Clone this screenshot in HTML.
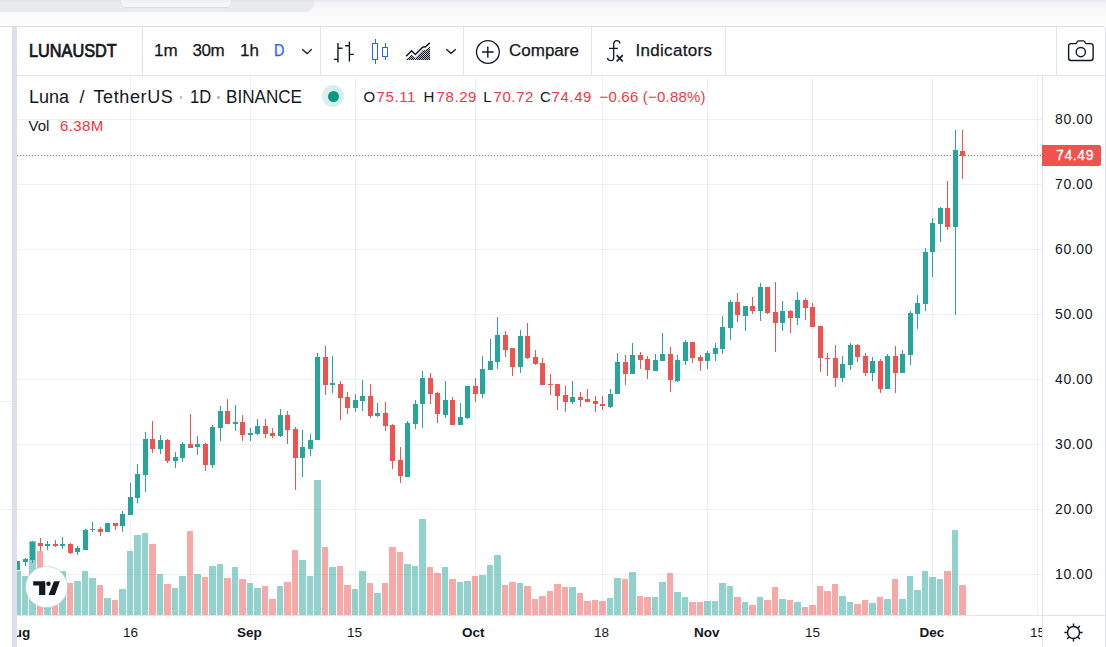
<!DOCTYPE html>
<html><head><meta charset="utf-8">
<style>
*{margin:0;padding:0;box-sizing:border-box}
html,body{width:1106px;height:647px;overflow:hidden;background:#fff}
body{position:relative;font-family:"Liberation Sans",sans-serif;color:#131722}
.a{position:absolute;white-space:nowrap}
</style></head><body>
<div class="a" style="left:0;top:0;width:1106px;height:26px;background:linear-gradient(#e8e9ed 0px,#f4f5f7 4px,#f9f9fa 10px,#fcfcfc 18px,#fefefe 26px)"></div>
<div class="a" style="left:0;top:0;width:314px;height:12px;background:linear-gradient(#dfe1e5 0px,#e8eaee 2px,#e9ebef 12px);border-bottom-right-radius:9px"></div>
<div class="a" style="left:121px;top:0;width:110px;height:7px;background:linear-gradient(#eef0f3,#f7f8fa);border-bottom-left-radius:5px;border-bottom-right-radius:5px;box-shadow:0 0.5px 1px rgba(0,0,0,0.12)"></div>
<div class="a" style="left:0;top:26px;width:1101px;height:1px;background:#d9dbdf"></div>
<div class="a" style="left:0;top:401px;width:12px;height:1px;background:#eceef2"></div>
<div class="a" style="left:0;top:509px;width:12px;height:1px;background:#eceef2"></div>
<div class="a" style="left:12px;top:27px;width:5px;height:620px;background:#dde0e8"></div>
<div class="a" style="left:1096px;top:26px;width:10px;height:10px;border-top-right-radius:4px;border-top:1px solid #d9dbdf;border-right:1px solid #dcdfe6"></div><div class="a" style="left:1105px;top:35px;width:1px;height:612px;background:#dcdfe6"></div>
<!-- toolbar -->
<div class="a" style="left:17px;top:75px;width:1088px;height:1px;background:#e0e3eb"></div>
<div class="a" style="left:142px;top:27px;width:1px;height:48px;background:#e0e3eb"></div>
<div class="a" style="left:320px;top:27px;width:1px;height:48px;background:#e0e3eb"></div>
<div class="a" style="left:463px;top:27px;width:1px;height:48px;background:#e0e3eb"></div>
<div class="a" style="left:591px;top:27px;width:1px;height:48px;background:#e0e3eb"></div>
<div class="a" style="left:725px;top:27px;width:1px;height:48px;background:#e0e3eb"></div>
<div class="a" style="left:1056px;top:27px;width:1px;height:48px;background:#e0e3eb"></div>
<div class="a" id="sym" style="left:29px;top:41.3px;font-size:16.3px;font-weight:normal;-webkit-text-stroke:0.7px #131722;line-height:20px;transform:scaleY(1.07);transform-origin:0 15px">LUNAUSDT</div>
<div class="a" id="t1m" style="-webkit-text-stroke:0.25px currentColor;margin-top:1px;left:154px;top:40px;font-size:17px;line-height:20px">1m</div>
<div class="a" id="t30m" style="-webkit-text-stroke:0.25px currentColor;margin-top:1px;left:192.5px;top:40px;font-size:17px;letter-spacing:-0.5px;line-height:20px">30m</div>
<div class="a" id="t1h" style="-webkit-text-stroke:0.25px currentColor;margin-top:1px;left:240px;top:40px;font-size:17px;line-height:20px">1h</div>
<div class="a" id="tD" style="-webkit-text-stroke:0.25px currentColor;margin-top:1px;left:274px;top:40px;font-size:17px;transform:scaleX(0.85);transform-origin:0 0;line-height:20px;color:#2962ff">D</div>
<div class="a" id="cmp" style="-webkit-text-stroke:0.25px currentColor;margin-top:1px;left:509px;top:40px;font-size:17px;line-height:20px">Compare</div>
<div class="a" id="ind" style="-webkit-text-stroke:0.25px currentColor;margin-top:1px;left:635.5px;top:40px;font-size:17px;letter-spacing:0.3px;line-height:20px">Indicators</div>
<svg class="a" style="left:0;top:0" width="1106" height="647" viewBox="0 0 1106 647" fill="none">
 <path d="M302.1 49.3 L307.1 53.6 L311.7 49.3" stroke="#131722" stroke-width="1.3"/>
 <path d="M446.3 49.3 L450.9 53.3 L455.8 49.3" stroke="#131722" stroke-width="1.3"/>
 <g stroke="#131722" stroke-width="1.4">
  <path d="M337.95 42.9 V62.6 M333.8 59.4 H338 M338 48.2 H342.5"/>
  <path d="M349.4 41.5 V61.5 M345.1 45.8 H349.4 M349.4 54.4 H353.9"/>
 </g>
 <g fill="#2962ff">
  <path fill-rule="evenodd" d="M372 43 H378 V60 H372 Z M373 44 V59 H377 V44 Z"/>
  <rect x="375" y="39" width="1" height="4"/><rect x="375" y="60" width="1" height="4"/>
  <path fill-rule="evenodd" d="M382 47 H388 V57 H382 Z M383 48 V56 H387 V48 Z"/>
  <rect x="385" y="43" width="1" height="4"/><rect x="385" y="57" width="1" height="3"/>
 </g>
 <defs><pattern id="dots" width="2" height="2" patternUnits="userSpaceOnUse"><rect width="2" height="2" fill="#b9bbc0"/><rect width="1" height="1" fill="#131722"/><rect x="1" y="1" width="1" height="1" fill="#131722"/></pattern></defs><path d="M406 60 L411.6 54.2 L415.3 58 L422.9 50.2 L425.2 50 L430 46.4 V60 Z" fill="url(#dots)"/>
 <path d="M406.1 56.3 L411.6 50.8 L415.3 54.5 L422.9 47 L425.2 47 L429.8 42.9" stroke="#131722" stroke-width="1.5"/>
 <circle cx="487.9" cy="52" r="11.4" stroke="#131722" stroke-width="1.3"/>
 <path d="M482 52 H493.6 M487.8 46.4 V57.8" stroke="#131722" stroke-width="1.4"/>
 <path d="M620 43.4 C619.6 41.6 618.3 40.6 616.8 40.6 C615 40.6 613.7 42 613.7 44.2 V57.4 C613.7 59.4 612.3 60.6 610.6 60.6 C609 60.6 607.8 59.5 607.4 57.9 M609 48.3 H617.9" stroke="#131722" stroke-width="1.3"/>
 <path d="M616.7 55.2 L622.7 61.5 M622.7 55.2 L616.7 61.5" stroke="#131722" stroke-width="1.7"/>
 <path d="M1071.1 43.6 H1075.8 Q1076.6 43.6 1076.9 42.6 L1077.1 42 Q1077.5 40.9 1078.6 40.9 H1083.4 Q1084.5 40.9 1084.9 42 L1085.1 42.6 Q1085.4 43.6 1086.2 43.6 H1090.6 A2.5 2.5 0 0 1 1093.1 46.1 V58 A2.5 2.5 0 0 1 1090.6 60.5 H1071.1 A2.5 2.5 0 0 1 1068.6 58 V46.1 A2.5 2.5 0 0 1 1071.1 43.6 Z" stroke="#131722" stroke-width="1.4"/>
 <circle cx="1080.8" cy="52.1" r="4.6" stroke="#131722" stroke-width="1.4"/>
</svg>
<!-- chart -->
<svg class="a" style="left:0;top:0" width="1106" height="647" viewBox="0 0 1106 647">
<defs><clipPath id="cp"><rect x="17" y="76" width="1025" height="539"/></clipPath></defs>
<g clip-path="url(#cp)">
<rect x="17" y="119" width="1025" height="1" fill="rgba(42,62,62,0.075)"/>
<rect x="17" y="184" width="1025" height="1" fill="rgba(42,62,62,0.075)"/>
<rect x="17" y="249" width="1025" height="1" fill="rgba(42,62,62,0.075)"/>
<rect x="17" y="314" width="1025" height="1" fill="rgba(42,62,62,0.075)"/>
<rect x="17" y="379" width="1025" height="1" fill="rgba(42,62,62,0.075)"/>
<rect x="17" y="444" width="1025" height="1" fill="rgba(42,62,62,0.075)"/>
<rect x="17" y="509" width="1025" height="1" fill="rgba(42,62,62,0.075)"/>
<rect x="17" y="574" width="1025" height="1" fill="rgba(42,62,62,0.075)"/>
<rect x="130" y="76" width="1" height="539" fill="rgba(42,62,62,0.075)"/>
<rect x="250" y="76" width="1" height="539" fill="rgba(42,62,62,0.075)"/>
<rect x="355" y="76" width="1" height="539" fill="rgba(42,62,62,0.075)"/>
<rect x="475" y="76" width="1" height="539" fill="rgba(42,62,62,0.075)"/>
<rect x="602" y="76" width="1" height="539" fill="rgba(42,62,62,0.075)"/>
<rect x="707" y="76" width="1" height="539" fill="rgba(42,62,62,0.075)"/>
<rect x="812" y="76" width="1" height="539" fill="rgba(42,62,62,0.075)"/>
<rect x="932" y="76" width="1" height="539" fill="rgba(42,62,62,0.075)"/>
<rect x="1037" y="76" width="1" height="539" fill="rgba(42,62,62,0.075)"/>
<rect x="14" y="571" width="7" height="44" fill="rgba(38,166,154,0.5)"/>
<rect x="22" y="576" width="6" height="39" fill="rgba(38,166,154,0.5)"/>
<rect x="29" y="541" width="7" height="74" fill="rgba(38,166,154,0.5)"/>
<rect x="37" y="551" width="6" height="64" fill="rgba(239,83,80,0.5)"/>
<rect x="44" y="585" width="7" height="30" fill="rgba(38,166,154,0.5)"/>
<rect x="52" y="590" width="6" height="25" fill="rgba(239,83,80,0.5)"/>
<rect x="59" y="571" width="7" height="44" fill="rgba(38,166,154,0.5)"/>
<rect x="67" y="583" width="6" height="32" fill="rgba(239,83,80,0.5)"/>
<rect x="74" y="581" width="7" height="34" fill="rgba(38,166,154,0.5)"/>
<rect x="82" y="571" width="6" height="44" fill="rgba(38,166,154,0.5)"/>
<rect x="89" y="578" width="7" height="37" fill="rgba(38,166,154,0.5)"/>
<rect x="97" y="585" width="6" height="30" fill="rgba(239,83,80,0.5)"/>
<rect x="104" y="598" width="7" height="17" fill="rgba(38,166,154,0.5)"/>
<rect x="112" y="600" width="6" height="15" fill="rgba(239,83,80,0.5)"/>
<rect x="119" y="589" width="7" height="26" fill="rgba(38,166,154,0.5)"/>
<rect x="127" y="551" width="6" height="64" fill="rgba(38,166,154,0.5)"/>
<rect x="134" y="535" width="7" height="80" fill="rgba(38,166,154,0.5)"/>
<rect x="142" y="533" width="6" height="82" fill="rgba(38,166,154,0.5)"/>
<rect x="149" y="544" width="7" height="71" fill="rgba(239,83,80,0.5)"/>
<rect x="157" y="574" width="6" height="41" fill="rgba(38,166,154,0.5)"/>
<rect x="164" y="584" width="7" height="31" fill="rgba(239,83,80,0.5)"/>
<rect x="172" y="588" width="6" height="27" fill="rgba(38,166,154,0.5)"/>
<rect x="179" y="576" width="7" height="39" fill="rgba(38,166,154,0.5)"/>
<rect x="187" y="531" width="6" height="84" fill="rgba(239,83,80,0.5)"/>
<rect x="194" y="574" width="7" height="41" fill="rgba(38,166,154,0.5)"/>
<rect x="202" y="577" width="6" height="38" fill="rgba(239,83,80,0.5)"/>
<rect x="209" y="566" width="7" height="49" fill="rgba(38,166,154,0.5)"/>
<rect x="217" y="564" width="6" height="51" fill="rgba(38,166,154,0.5)"/>
<rect x="224" y="578" width="7" height="37" fill="rgba(239,83,80,0.5)"/>
<rect x="232" y="567" width="6" height="48" fill="rgba(38,166,154,0.5)"/>
<rect x="239" y="579" width="7" height="36" fill="rgba(239,83,80,0.5)"/>
<rect x="247" y="583" width="6" height="32" fill="rgba(38,166,154,0.5)"/>
<rect x="254" y="588" width="7" height="27" fill="rgba(38,166,154,0.5)"/>
<rect x="262" y="586" width="6" height="29" fill="rgba(239,83,80,0.5)"/>
<rect x="269" y="599" width="7" height="16" fill="rgba(239,83,80,0.5)"/>
<rect x="277" y="586" width="6" height="29" fill="rgba(38,166,154,0.5)"/>
<rect x="284" y="582" width="7" height="33" fill="rgba(239,83,80,0.5)"/>
<rect x="292" y="550" width="6" height="65" fill="rgba(239,83,80,0.5)"/>
<rect x="299" y="560" width="7" height="55" fill="rgba(38,166,154,0.5)"/>
<rect x="307" y="576" width="6" height="39" fill="rgba(38,166,154,0.5)"/>
<rect x="314" y="480" width="7" height="135" fill="rgba(38,166,154,0.5)"/>
<rect x="322" y="547" width="6" height="68" fill="rgba(239,83,80,0.5)"/>
<rect x="329" y="567" width="7" height="48" fill="rgba(38,166,154,0.5)"/>
<rect x="337" y="566" width="6" height="49" fill="rgba(239,83,80,0.5)"/>
<rect x="344" y="585" width="7" height="30" fill="rgba(239,83,80,0.5)"/>
<rect x="352" y="589" width="6" height="26" fill="rgba(38,166,154,0.5)"/>
<rect x="359" y="571" width="7" height="44" fill="rgba(38,166,154,0.5)"/>
<rect x="367" y="583" width="6" height="32" fill="rgba(239,83,80,0.5)"/>
<rect x="374" y="593" width="7" height="22" fill="rgba(38,166,154,0.5)"/>
<rect x="382" y="583" width="6" height="32" fill="rgba(239,83,80,0.5)"/>
<rect x="389" y="547" width="7" height="68" fill="rgba(239,83,80,0.5)"/>
<rect x="397" y="552" width="6" height="63" fill="rgba(239,83,80,0.5)"/>
<rect x="404" y="564" width="7" height="51" fill="rgba(38,166,154,0.5)"/>
<rect x="412" y="566" width="6" height="49" fill="rgba(38,166,154,0.5)"/>
<rect x="419" y="519" width="7" height="96" fill="rgba(38,166,154,0.5)"/>
<rect x="427" y="567" width="6" height="48" fill="rgba(239,83,80,0.5)"/>
<rect x="434" y="573" width="7" height="42" fill="rgba(239,83,80,0.5)"/>
<rect x="442" y="567" width="6" height="48" fill="rgba(38,166,154,0.5)"/>
<rect x="449" y="579" width="7" height="36" fill="rgba(239,83,80,0.5)"/>
<rect x="457" y="582" width="6" height="33" fill="rgba(38,166,154,0.5)"/>
<rect x="464" y="581" width="7" height="34" fill="rgba(38,166,154,0.5)"/>
<rect x="472" y="576" width="6" height="39" fill="rgba(239,83,80,0.5)"/>
<rect x="479" y="575" width="7" height="40" fill="rgba(38,166,154,0.5)"/>
<rect x="487" y="565" width="6" height="50" fill="rgba(38,166,154,0.5)"/>
<rect x="494" y="555" width="7" height="60" fill="rgba(38,166,154,0.5)"/>
<rect x="502" y="585" width="6" height="30" fill="rgba(239,83,80,0.5)"/>
<rect x="509" y="582" width="7" height="33" fill="rgba(239,83,80,0.5)"/>
<rect x="517" y="583" width="6" height="32" fill="rgba(38,166,154,0.5)"/>
<rect x="524" y="586" width="7" height="29" fill="rgba(239,83,80,0.5)"/>
<rect x="532" y="599" width="6" height="16" fill="rgba(239,83,80,0.5)"/>
<rect x="539" y="596" width="7" height="19" fill="rgba(239,83,80,0.5)"/>
<rect x="547" y="591" width="6" height="24" fill="rgba(239,83,80,0.5)"/>
<rect x="554" y="584" width="7" height="31" fill="rgba(239,83,80,0.5)"/>
<rect x="562" y="587" width="6" height="28" fill="rgba(239,83,80,0.5)"/>
<rect x="569" y="587" width="7" height="28" fill="rgba(38,166,154,0.5)"/>
<rect x="577" y="593" width="6" height="22" fill="rgba(239,83,80,0.5)"/>
<rect x="584" y="601" width="7" height="14" fill="rgba(239,83,80,0.5)"/>
<rect x="592" y="600" width="6" height="15" fill="rgba(239,83,80,0.5)"/>
<rect x="599" y="601" width="7" height="14" fill="rgba(239,83,80,0.5)"/>
<rect x="607" y="598" width="6" height="17" fill="rgba(38,166,154,0.5)"/>
<rect x="614" y="578" width="7" height="37" fill="rgba(38,166,154,0.5)"/>
<rect x="622" y="579" width="6" height="36" fill="rgba(239,83,80,0.5)"/>
<rect x="629" y="572" width="7" height="43" fill="rgba(38,166,154,0.5)"/>
<rect x="637" y="596" width="6" height="19" fill="rgba(239,83,80,0.5)"/>
<rect x="644" y="597" width="7" height="18" fill="rgba(239,83,80,0.5)"/>
<rect x="652" y="597" width="6" height="18" fill="rgba(38,166,154,0.5)"/>
<rect x="659" y="582" width="7" height="33" fill="rgba(38,166,154,0.5)"/>
<rect x="667" y="573" width="6" height="42" fill="rgba(239,83,80,0.5)"/>
<rect x="674" y="592" width="7" height="23" fill="rgba(38,166,154,0.5)"/>
<rect x="682" y="597" width="6" height="18" fill="rgba(38,166,154,0.5)"/>
<rect x="689" y="602" width="7" height="13" fill="rgba(239,83,80,0.5)"/>
<rect x="697" y="602" width="6" height="13" fill="rgba(239,83,80,0.5)"/>
<rect x="704" y="601" width="7" height="14" fill="rgba(38,166,154,0.5)"/>
<rect x="712" y="601" width="6" height="14" fill="rgba(38,166,154,0.5)"/>
<rect x="719" y="583" width="7" height="32" fill="rgba(38,166,154,0.5)"/>
<rect x="727" y="586" width="6" height="29" fill="rgba(38,166,154,0.5)"/>
<rect x="734" y="597" width="7" height="18" fill="rgba(239,83,80,0.5)"/>
<rect x="742" y="602" width="6" height="13" fill="rgba(38,166,154,0.5)"/>
<rect x="749" y="605" width="7" height="10" fill="rgba(239,83,80,0.5)"/>
<rect x="757" y="597" width="6" height="18" fill="rgba(38,166,154,0.5)"/>
<rect x="764" y="600" width="7" height="15" fill="rgba(239,83,80,0.5)"/>
<rect x="772" y="587" width="6" height="28" fill="rgba(239,83,80,0.5)"/>
<rect x="779" y="599" width="7" height="16" fill="rgba(38,166,154,0.5)"/>
<rect x="787" y="600" width="6" height="15" fill="rgba(239,83,80,0.5)"/>
<rect x="794" y="602" width="7" height="13" fill="rgba(38,166,154,0.5)"/>
<rect x="802" y="607" width="6" height="8" fill="rgba(239,83,80,0.5)"/>
<rect x="809" y="605" width="7" height="10" fill="rgba(239,83,80,0.5)"/>
<rect x="817" y="586" width="6" height="29" fill="rgba(239,83,80,0.5)"/>
<rect x="824" y="591" width="7" height="24" fill="rgba(239,83,80,0.5)"/>
<rect x="832" y="584" width="6" height="31" fill="rgba(239,83,80,0.5)"/>
<rect x="839" y="596" width="7" height="19" fill="rgba(38,166,154,0.5)"/>
<rect x="847" y="602" width="6" height="13" fill="rgba(38,166,154,0.5)"/>
<rect x="854" y="604" width="7" height="11" fill="rgba(239,83,80,0.5)"/>
<rect x="862" y="600" width="6" height="15" fill="rgba(239,83,80,0.5)"/>
<rect x="869" y="603" width="7" height="12" fill="rgba(38,166,154,0.5)"/>
<rect x="877" y="597" width="6" height="18" fill="rgba(239,83,80,0.5)"/>
<rect x="884" y="599" width="7" height="16" fill="rgba(38,166,154,0.5)"/>
<rect x="892" y="579" width="6" height="36" fill="rgba(239,83,80,0.5)"/>
<rect x="899" y="599" width="7" height="16" fill="rgba(38,166,154,0.5)"/>
<rect x="907" y="576" width="6" height="39" fill="rgba(38,166,154,0.5)"/>
<rect x="914" y="590" width="7" height="25" fill="rgba(38,166,154,0.5)"/>
<rect x="922" y="571" width="6" height="44" fill="rgba(38,166,154,0.5)"/>
<rect x="929" y="577" width="7" height="38" fill="rgba(38,166,154,0.5)"/>
<rect x="937" y="579" width="6" height="36" fill="rgba(38,166,154,0.5)"/>
<rect x="944" y="571" width="7" height="44" fill="rgba(239,83,80,0.5)"/>
<rect x="952" y="530" width="6" height="85" fill="rgba(38,166,154,0.5)"/>
<rect x="959" y="585" width="7" height="30" fill="rgba(239,83,80,0.5)"/>
<rect x="17" y="561" width="1" height="9" fill="#26a69a"/>
<rect x="15" y="561" width="5" height="9" fill="#26a69a"/>
<rect x="25" y="558" width="1" height="8" fill="#26a69a"/>
<rect x="23" y="559" width="5" height="3" fill="#26a69a"/>
<rect x="32" y="541" width="1" height="22" fill="#26a69a"/>
<rect x="30" y="542" width="5" height="18" fill="#26a69a"/>
<rect x="40" y="538" width="1" height="13" fill="#ef5350"/>
<rect x="38" y="543" width="5" height="3" fill="#ef5350"/>
<rect x="47" y="541" width="1" height="9" fill="#26a69a"/>
<rect x="45" y="544" width="5" height="2" fill="#26a69a"/>
<rect x="55" y="540" width="1" height="7" fill="#ef5350"/>
<rect x="53" y="544" width="5" height="2" fill="#ef5350"/>
<rect x="62" y="537" width="1" height="12" fill="#26a69a"/>
<rect x="60" y="544" width="5" height="2" fill="#26a69a"/>
<rect x="70" y="543" width="1" height="11" fill="#ef5350"/>
<rect x="68" y="544" width="5" height="9" fill="#ef5350"/>
<rect x="77" y="546" width="1" height="9" fill="#26a69a"/>
<rect x="75" y="548" width="5" height="4" fill="#26a69a"/>
<rect x="85" y="529" width="1" height="21" fill="#26a69a"/>
<rect x="83" y="530" width="5" height="20" fill="#26a69a"/>
<rect x="92" y="522" width="1" height="10" fill="#26a69a"/>
<rect x="90" y="529" width="5" height="1" fill="#26a69a"/>
<rect x="100" y="527" width="1" height="9" fill="#ef5350"/>
<rect x="98" y="529" width="5" height="3" fill="#ef5350"/>
<rect x="107" y="523" width="1" height="9" fill="#26a69a"/>
<rect x="105" y="523" width="5" height="9" fill="#26a69a"/>
<rect x="115" y="523" width="1" height="7" fill="#ef5350"/>
<rect x="113" y="523" width="5" height="3" fill="#ef5350"/>
<rect x="122" y="511" width="1" height="21" fill="#26a69a"/>
<rect x="120" y="514" width="5" height="12" fill="#26a69a"/>
<rect x="130" y="483" width="1" height="32" fill="#26a69a"/>
<rect x="128" y="497" width="5" height="18" fill="#26a69a"/>
<rect x="137" y="464" width="1" height="39" fill="#26a69a"/>
<rect x="135" y="474" width="5" height="24" fill="#26a69a"/>
<rect x="145" y="432" width="1" height="60" fill="#26a69a"/>
<rect x="143" y="439" width="5" height="36" fill="#26a69a"/>
<rect x="152" y="421" width="1" height="32" fill="#ef5350"/>
<rect x="150" y="439" width="5" height="10" fill="#ef5350"/>
<rect x="160" y="435" width="1" height="19" fill="#26a69a"/>
<rect x="158" y="440" width="5" height="9" fill="#26a69a"/>
<rect x="167" y="439" width="1" height="24" fill="#ef5350"/>
<rect x="165" y="440" width="5" height="21" fill="#ef5350"/>
<rect x="175" y="452" width="1" height="16" fill="#26a69a"/>
<rect x="173" y="457" width="5" height="4" fill="#26a69a"/>
<rect x="182" y="442" width="1" height="20" fill="#26a69a"/>
<rect x="180" y="444" width="5" height="14" fill="#26a69a"/>
<rect x="190" y="414" width="1" height="34" fill="#ef5350"/>
<rect x="188" y="444" width="5" height="4" fill="#ef5350"/>
<rect x="197" y="436" width="1" height="19" fill="#26a69a"/>
<rect x="195" y="444" width="5" height="3" fill="#26a69a"/>
<rect x="205" y="443" width="1" height="28" fill="#ef5350"/>
<rect x="203" y="444" width="5" height="21" fill="#ef5350"/>
<rect x="212" y="425" width="1" height="43" fill="#26a69a"/>
<rect x="210" y="427" width="5" height="38" fill="#26a69a"/>
<rect x="220" y="406" width="1" height="35" fill="#26a69a"/>
<rect x="218" y="411" width="5" height="17" fill="#26a69a"/>
<rect x="227" y="399" width="1" height="25" fill="#ef5350"/>
<rect x="225" y="411" width="5" height="13" fill="#ef5350"/>
<rect x="235" y="405" width="1" height="26" fill="#26a69a"/>
<rect x="233" y="422" width="5" height="2" fill="#26a69a"/>
<rect x="242" y="415" width="1" height="26" fill="#ef5350"/>
<rect x="240" y="422" width="5" height="13" fill="#ef5350"/>
<rect x="250" y="428" width="1" height="13" fill="#26a69a"/>
<rect x="248" y="433" width="5" height="2" fill="#26a69a"/>
<rect x="257" y="419" width="1" height="16" fill="#26a69a"/>
<rect x="255" y="426" width="5" height="8" fill="#26a69a"/>
<rect x="265" y="419" width="1" height="19" fill="#ef5350"/>
<rect x="263" y="426" width="5" height="8" fill="#ef5350"/>
<rect x="272" y="428" width="1" height="10" fill="#ef5350"/>
<rect x="270" y="433" width="5" height="3" fill="#ef5350"/>
<rect x="280" y="409" width="1" height="28" fill="#26a69a"/>
<rect x="278" y="415" width="5" height="21" fill="#26a69a"/>
<rect x="287" y="411" width="1" height="33" fill="#ef5350"/>
<rect x="285" y="415" width="5" height="15" fill="#ef5350"/>
<rect x="295" y="427" width="1" height="63" fill="#ef5350"/>
<rect x="293" y="429" width="5" height="29" fill="#ef5350"/>
<rect x="302" y="430" width="1" height="47" fill="#26a69a"/>
<rect x="300" y="447" width="5" height="11" fill="#26a69a"/>
<rect x="310" y="434" width="1" height="22" fill="#26a69a"/>
<rect x="308" y="440" width="5" height="9" fill="#26a69a"/>
<rect x="317" y="353" width="1" height="87" fill="#26a69a"/>
<rect x="315" y="357" width="5" height="83" fill="#26a69a"/>
<rect x="325" y="346" width="1" height="49" fill="#ef5350"/>
<rect x="323" y="357" width="5" height="28" fill="#ef5350"/>
<rect x="332" y="356" width="1" height="37" fill="#26a69a"/>
<rect x="330" y="383" width="5" height="2" fill="#26a69a"/>
<rect x="340" y="381" width="1" height="39" fill="#ef5350"/>
<rect x="338" y="384" width="5" height="14" fill="#ef5350"/>
<rect x="347" y="392" width="1" height="22" fill="#ef5350"/>
<rect x="345" y="397" width="5" height="11" fill="#ef5350"/>
<rect x="355" y="394" width="1" height="18" fill="#26a69a"/>
<rect x="353" y="400" width="5" height="8" fill="#26a69a"/>
<rect x="362" y="380" width="1" height="31" fill="#26a69a"/>
<rect x="360" y="396" width="5" height="5" fill="#26a69a"/>
<rect x="370" y="384" width="1" height="34" fill="#ef5350"/>
<rect x="368" y="396" width="5" height="20" fill="#ef5350"/>
<rect x="377" y="403" width="1" height="14" fill="#26a69a"/>
<rect x="375" y="413" width="5" height="3" fill="#26a69a"/>
<rect x="385" y="402" width="1" height="29" fill="#ef5350"/>
<rect x="383" y="413" width="5" height="13" fill="#ef5350"/>
<rect x="392" y="424" width="1" height="45" fill="#ef5350"/>
<rect x="390" y="425" width="5" height="36" fill="#ef5350"/>
<rect x="400" y="447" width="1" height="36" fill="#ef5350"/>
<rect x="398" y="460" width="5" height="16" fill="#ef5350"/>
<rect x="407" y="421" width="1" height="56" fill="#26a69a"/>
<rect x="405" y="423" width="5" height="54" fill="#26a69a"/>
<rect x="415" y="400" width="1" height="29" fill="#26a69a"/>
<rect x="413" y="404" width="5" height="20" fill="#26a69a"/>
<rect x="422" y="371" width="1" height="57" fill="#26a69a"/>
<rect x="420" y="378" width="5" height="26" fill="#26a69a"/>
<rect x="430" y="373" width="1" height="31" fill="#ef5350"/>
<rect x="428" y="378" width="5" height="16" fill="#ef5350"/>
<rect x="437" y="392" width="1" height="31" fill="#ef5350"/>
<rect x="435" y="393" width="5" height="21" fill="#ef5350"/>
<rect x="445" y="381" width="1" height="37" fill="#26a69a"/>
<rect x="443" y="400" width="5" height="15" fill="#26a69a"/>
<rect x="452" y="397" width="1" height="28" fill="#ef5350"/>
<rect x="450" y="400" width="5" height="25" fill="#ef5350"/>
<rect x="460" y="403" width="1" height="22" fill="#26a69a"/>
<rect x="458" y="417" width="5" height="8" fill="#26a69a"/>
<rect x="467" y="386" width="1" height="33" fill="#26a69a"/>
<rect x="465" y="386" width="5" height="32" fill="#26a69a"/>
<rect x="475" y="378" width="1" height="24" fill="#ef5350"/>
<rect x="473" y="386" width="5" height="8" fill="#ef5350"/>
<rect x="482" y="356" width="1" height="42" fill="#26a69a"/>
<rect x="480" y="369" width="5" height="25" fill="#26a69a"/>
<rect x="490" y="339" width="1" height="31" fill="#26a69a"/>
<rect x="488" y="361" width="5" height="9" fill="#26a69a"/>
<rect x="497" y="317" width="1" height="52" fill="#26a69a"/>
<rect x="495" y="335" width="5" height="27" fill="#26a69a"/>
<rect x="505" y="331" width="1" height="26" fill="#ef5350"/>
<rect x="503" y="335" width="5" height="15" fill="#ef5350"/>
<rect x="512" y="348" width="1" height="28" fill="#ef5350"/>
<rect x="510" y="348" width="5" height="19" fill="#ef5350"/>
<rect x="520" y="330" width="1" height="43" fill="#26a69a"/>
<rect x="518" y="336" width="5" height="31" fill="#26a69a"/>
<rect x="527" y="323" width="1" height="36" fill="#ef5350"/>
<rect x="525" y="336" width="5" height="22" fill="#ef5350"/>
<rect x="535" y="350" width="1" height="15" fill="#ef5350"/>
<rect x="533" y="357" width="5" height="7" fill="#ef5350"/>
<rect x="542" y="358" width="1" height="27" fill="#ef5350"/>
<rect x="540" y="363" width="5" height="22" fill="#ef5350"/>
<rect x="550" y="374" width="1" height="21" fill="#ef5350"/>
<rect x="548" y="384" width="5" height="1" fill="#ef5350"/>
<rect x="557" y="384" width="1" height="26" fill="#ef5350"/>
<rect x="555" y="384" width="5" height="12" fill="#ef5350"/>
<rect x="565" y="386" width="1" height="26" fill="#ef5350"/>
<rect x="563" y="395" width="5" height="7" fill="#ef5350"/>
<rect x="572" y="381" width="1" height="23" fill="#26a69a"/>
<rect x="570" y="397" width="5" height="5" fill="#26a69a"/>
<rect x="580" y="392" width="1" height="15" fill="#ef5350"/>
<rect x="578" y="397" width="5" height="3" fill="#ef5350"/>
<rect x="587" y="389" width="1" height="13" fill="#ef5350"/>
<rect x="585" y="399" width="5" height="3" fill="#ef5350"/>
<rect x="595" y="396" width="1" height="16" fill="#ef5350"/>
<rect x="593" y="401" width="5" height="3" fill="#ef5350"/>
<rect x="602" y="396" width="1" height="14" fill="#ef5350"/>
<rect x="600" y="404" width="5" height="2" fill="#ef5350"/>
<rect x="610" y="389" width="1" height="19" fill="#26a69a"/>
<rect x="608" y="394" width="5" height="13" fill="#26a69a"/>
<rect x="617" y="353" width="1" height="41" fill="#26a69a"/>
<rect x="615" y="362" width="5" height="32" fill="#26a69a"/>
<rect x="625" y="355" width="1" height="30" fill="#ef5350"/>
<rect x="623" y="362" width="5" height="12" fill="#ef5350"/>
<rect x="632" y="343" width="1" height="31" fill="#26a69a"/>
<rect x="630" y="355" width="5" height="19" fill="#26a69a"/>
<rect x="640" y="352" width="1" height="17" fill="#ef5350"/>
<rect x="638" y="355" width="5" height="5" fill="#ef5350"/>
<rect x="647" y="356" width="1" height="23" fill="#ef5350"/>
<rect x="645" y="359" width="5" height="11" fill="#ef5350"/>
<rect x="655" y="354" width="1" height="17" fill="#26a69a"/>
<rect x="653" y="360" width="5" height="11" fill="#26a69a"/>
<rect x="662" y="333" width="1" height="28" fill="#26a69a"/>
<rect x="660" y="354" width="5" height="7" fill="#26a69a"/>
<rect x="670" y="347" width="1" height="45" fill="#ef5350"/>
<rect x="668" y="354" width="5" height="26" fill="#ef5350"/>
<rect x="677" y="355" width="1" height="27" fill="#26a69a"/>
<rect x="675" y="360" width="5" height="21" fill="#26a69a"/>
<rect x="685" y="340" width="1" height="25" fill="#26a69a"/>
<rect x="683" y="342" width="5" height="19" fill="#26a69a"/>
<rect x="692" y="342" width="1" height="21" fill="#ef5350"/>
<rect x="690" y="342" width="5" height="16" fill="#ef5350"/>
<rect x="700" y="355" width="1" height="16" fill="#ef5350"/>
<rect x="698" y="357" width="5" height="4" fill="#ef5350"/>
<rect x="707" y="351" width="1" height="18" fill="#26a69a"/>
<rect x="705" y="353" width="5" height="8" fill="#26a69a"/>
<rect x="715" y="343" width="1" height="18" fill="#26a69a"/>
<rect x="713" y="348" width="5" height="6" fill="#26a69a"/>
<rect x="722" y="316" width="1" height="38" fill="#26a69a"/>
<rect x="720" y="327" width="5" height="22" fill="#26a69a"/>
<rect x="730" y="300" width="1" height="40" fill="#26a69a"/>
<rect x="728" y="302" width="5" height="26" fill="#26a69a"/>
<rect x="737" y="293" width="1" height="29" fill="#ef5350"/>
<rect x="735" y="302" width="5" height="13" fill="#ef5350"/>
<rect x="745" y="306" width="1" height="25" fill="#26a69a"/>
<rect x="743" y="306" width="5" height="10" fill="#26a69a"/>
<rect x="752" y="297" width="1" height="17" fill="#ef5350"/>
<rect x="750" y="306" width="5" height="5" fill="#ef5350"/>
<rect x="760" y="283" width="1" height="38" fill="#26a69a"/>
<rect x="758" y="287" width="5" height="24" fill="#26a69a"/>
<rect x="767" y="287" width="1" height="27" fill="#ef5350"/>
<rect x="765" y="287" width="5" height="26" fill="#ef5350"/>
<rect x="775" y="282" width="1" height="70" fill="#ef5350"/>
<rect x="773" y="312" width="5" height="11" fill="#ef5350"/>
<rect x="782" y="301" width="1" height="30" fill="#26a69a"/>
<rect x="780" y="311" width="5" height="12" fill="#26a69a"/>
<rect x="790" y="310" width="1" height="23" fill="#ef5350"/>
<rect x="788" y="311" width="5" height="7" fill="#ef5350"/>
<rect x="797" y="292" width="1" height="33" fill="#26a69a"/>
<rect x="795" y="300" width="5" height="18" fill="#26a69a"/>
<rect x="805" y="298" width="1" height="22" fill="#ef5350"/>
<rect x="803" y="300" width="5" height="8" fill="#ef5350"/>
<rect x="812" y="303" width="1" height="24" fill="#ef5350"/>
<rect x="810" y="307" width="5" height="20" fill="#ef5350"/>
<rect x="820" y="326" width="1" height="46" fill="#ef5350"/>
<rect x="818" y="326" width="5" height="32" fill="#ef5350"/>
<rect x="827" y="353" width="1" height="23" fill="#ef5350"/>
<rect x="825" y="358" width="5" height="1" fill="#ef5350"/>
<rect x="835" y="345" width="1" height="42" fill="#ef5350"/>
<rect x="833" y="358" width="5" height="20" fill="#ef5350"/>
<rect x="842" y="356" width="1" height="26" fill="#26a69a"/>
<rect x="840" y="364" width="5" height="14" fill="#26a69a"/>
<rect x="850" y="343" width="1" height="27" fill="#26a69a"/>
<rect x="848" y="345" width="5" height="20" fill="#26a69a"/>
<rect x="857" y="344" width="1" height="18" fill="#ef5350"/>
<rect x="855" y="345" width="5" height="12" fill="#ef5350"/>
<rect x="865" y="353" width="1" height="23" fill="#ef5350"/>
<rect x="863" y="356" width="5" height="17" fill="#ef5350"/>
<rect x="872" y="357" width="1" height="24" fill="#26a69a"/>
<rect x="870" y="361" width="5" height="12" fill="#26a69a"/>
<rect x="880" y="359" width="1" height="34" fill="#ef5350"/>
<rect x="878" y="361" width="5" height="28" fill="#ef5350"/>
<rect x="887" y="354" width="1" height="35" fill="#26a69a"/>
<rect x="885" y="356" width="5" height="33" fill="#26a69a"/>
<rect x="895" y="346" width="1" height="47" fill="#ef5350"/>
<rect x="893" y="356" width="5" height="17" fill="#ef5350"/>
<rect x="902" y="350" width="1" height="23" fill="#26a69a"/>
<rect x="900" y="354" width="5" height="19" fill="#26a69a"/>
<rect x="910" y="311" width="1" height="54" fill="#26a69a"/>
<rect x="908" y="313" width="5" height="42" fill="#26a69a"/>
<rect x="917" y="295" width="1" height="34" fill="#26a69a"/>
<rect x="915" y="303" width="5" height="11" fill="#26a69a"/>
<rect x="925" y="248" width="1" height="63" fill="#26a69a"/>
<rect x="923" y="252" width="5" height="52" fill="#26a69a"/>
<rect x="932" y="218" width="1" height="59" fill="#26a69a"/>
<rect x="930" y="223" width="5" height="29" fill="#26a69a"/>
<rect x="940" y="207" width="1" height="35" fill="#26a69a"/>
<rect x="938" y="208" width="5" height="16" fill="#26a69a"/>
<rect x="947" y="181" width="1" height="49" fill="#ef5350"/>
<rect x="945" y="208" width="5" height="19" fill="#ef5350"/>
<rect x="955" y="130" width="1" height="185" fill="#26a69a"/>
<rect x="953" y="150" width="5" height="77" fill="#26a69a"/>
<rect x="962" y="130" width="1" height="49" fill="#ef5350"/>
<rect x="960" y="151" width="5" height="5" fill="#ef5350"/>
<line x1="17" y1="155.5" x2="1042" y2="155.5" stroke="#ef5350" stroke-width="1" stroke-dasharray="1 2"/>
</g>
<rect x="17" y="615" width="1088" height="1" fill="#e0e3eb"/>
<rect x="1042" y="76" width="1" height="571" fill="#e0e3eb"/>
</svg>
<!-- legend -->
<div class="a" style="left:0;top:0;font-size:18px;line-height:20px">
 <div class="a" id="tk1" style="left:29px;top:87px">Luna</div>
 <div class="a" id="tk2" style="left:79.5px;top:87px">/</div>
 <div class="a" id="tk3" style="left:93.5px;top:87px;letter-spacing:0.6px">TetherUS</div>
 <div class="a" style="left:179.6px;top:96.3px;width:2.6px;height:2.6px;border-radius:50%;background:#b2b5be"></div>
 <div class="a" id="tk4" style="left:189.5px;top:87px;transform:scaleX(0.92);transform-origin:0 0">1D</div>
 <div class="a" style="left:217.1px;top:96.3px;width:2.6px;height:2.6px;border-radius:50%;background:#b2b5be"></div>
 <div class="a" id="tk5" style="left:226.3px;top:87px;transform:scaleX(0.95);transform-origin:0 0">BINANCE</div>
</div>
<div class="a" style="left:322px;top:85px;width:22px;height:22px;border-radius:50%;background:#d9efec"></div>
<div class="a" style="left:327.5px;top:90.5px;width:11px;height:11px;border-radius:50%;background:#089981"></div>
<div class="a" style="left:0;top:0;font-size:15px;line-height:16px;color:#f23645">
 <div class="a" id="oO" style="left:363.5px;top:89px;color:#131722">O</div>
 <div class="a" id="oOv" style="left:376.5px;top:89px;letter-spacing:0.6px">75.11</div>
 <div class="a" id="oH" style="left:423.5px;top:89px;color:#131722">H</div>
 <div class="a" id="oHv" style="left:436.5px;top:89px;letter-spacing:0.6px">78.29</div>
 <div class="a" id="oL" style="left:483.3px;top:89px;color:#131722">L</div>
 <div class="a" id="oLv" style="left:493.5px;top:89px;letter-spacing:0.6px">70.72</div>
 <div class="a" id="oC" style="left:540px;top:89px;color:#131722">C</div>
 <div class="a" id="oCv" style="left:551.5px;top:89px;letter-spacing:0.6px">74.49</div>
 <div class="a" id="oCh" style="left:599.5px;top:89px;letter-spacing:0.2px">−0.66 (−0.88%)</div>
</div>
<div class="a" id="vol" style="left:28.5px;top:118px;font-size:15px;line-height:16px">Vol</div><div class="a" id="volv" style="left:60px;top:118px;font-size:15px;line-height:16px;color:#f23645;letter-spacing:0.4px">6.38M</div>
<!-- price axis -->
<div class="a" style="left:1043px;top:111px;width:62px;font-size:14px;line-height:16px;padding-left:12px;letter-spacing:0.6px;margin-top:0.4px">80.00</div>
<div class="a" style="left:1043px;top:176px;width:62px;font-size:14px;line-height:16px;padding-left:12px;letter-spacing:0.6px;margin-top:0.4px">70.00</div>
<div class="a" style="left:1043px;top:241px;width:62px;font-size:14px;line-height:16px;padding-left:12px;letter-spacing:0.6px;margin-top:0.4px">60.00</div>
<div class="a" style="left:1043px;top:306px;width:62px;font-size:14px;line-height:16px;padding-left:12px;letter-spacing:0.6px;margin-top:0.4px">50.00</div>
<div class="a" style="left:1043px;top:371px;width:62px;font-size:14px;line-height:16px;padding-left:12px;letter-spacing:0.6px;margin-top:0.4px">40.00</div>
<div class="a" style="left:1043px;top:436px;width:62px;font-size:14px;line-height:16px;padding-left:12px;letter-spacing:0.6px;margin-top:0.4px">30.00</div>
<div class="a" style="left:1043px;top:501px;width:62px;font-size:14px;line-height:16px;padding-left:12px;letter-spacing:0.6px;margin-top:0.4px">20.00</div>
<div class="a" style="left:1043px;top:566px;width:62px;font-size:14px;line-height:16px;padding-left:12px;letter-spacing:0.6px;margin-top:0.4px">10.00</div>
<div class="a" style="left:1042px;top:145px;width:59px;height:21px;background:#ef5350;border-radius:0 2px 2px 0"></div>
<div class="a" style="left:1043px;top:147px;width:62px;font-size:14px;line-height:16px;padding-left:13px;color:#fff;letter-spacing:0.6px;-webkit-text-stroke:0.3px #fff">74.49</div>
<!-- time axis -->
<div class="a" style="left:0;top:625px;width:17px;height:18px;overflow:hidden"></div>
<div class="a" style="left:17px;top:616px;width:1025px;height:31px;overflow:hidden">
 <div class="a" style="left:-13px;top:9px;font-size:13.5px;font-weight:bold;line-height:16px">Aug</div>
 <div class="a" style="left:106px;top:9px;font-size:13.5px;line-height:16px">16</div>
 <div class="a" style="left:220px;top:9px;font-size:13.5px;font-weight:bold;line-height:16px">Sep</div>
 <div class="a" style="left:330px;top:9px;font-size:13.5px;line-height:16px">15</div>
 <div class="a" style="left:445px;top:9px;font-size:13.5px;font-weight:bold;line-height:16px">Oct</div>
 <div class="a" style="left:577px;top:9px;font-size:13.5px;line-height:16px">18</div>
 <div class="a" style="left:677px;top:9px;font-size:13.5px;font-weight:bold;line-height:16px">Nov</div>
 <div class="a" style="left:788px;top:9px;font-size:13.5px;line-height:16px">15</div>
 <div class="a" style="left:902.5px;top:9px;font-size:13.5px;font-weight:bold;line-height:16px">Dec</div>
 <div class="a" style="left:1013px;top:9px;font-size:13.5px;line-height:16px">15</div>
</div>
<!-- logo -->
<div class="a" style="left:26px;top:566.8px;width:40.6px;height:40.6px;border-radius:50%;background:#fff;box-shadow:0 0 0 1px rgba(210,214,222,0.7), 0 0 2px 1px rgba(0,0,0,0.05)"></div>
<svg class="a" style="left:0;top:0" width="1106" height="647" viewBox="0 0 1106 647">
 <path d="M33.2 581.3 H45.3 V594.9 H39.1 V585.5 H33.2 Z" fill="#131722"/>
 <circle cx="48.5" cy="583.8" r="2.2" fill="#131722"/>
 <path d="M54 581.3 H59.8 L54.9 594.9 H48.5 Z" fill="#131722"/>
</svg>
<!-- gear -->
<svg class="a" style="left:0;top:0" width="1106" height="647" viewBox="0 0 1106 647" fill="none">
 <circle cx="1073.5" cy="632.5" r="6" stroke="#131722" stroke-width="1.4"/>
 <path d="M1073.5 623.4 V626.5 M1073.5 638.5 V641.6 M1064.4 632.5 H1067.5 M1079.5 632.5 H1082.6 M1067.1 626.1 L1069.2 628.2 M1077.8 636.8 L1079.9 638.9 M1079.9 626.1 L1077.8 628.2 M1069.2 636.8 L1067.1 638.9" stroke="#131722" stroke-width="1.4"/>
</svg>
</body></html>
